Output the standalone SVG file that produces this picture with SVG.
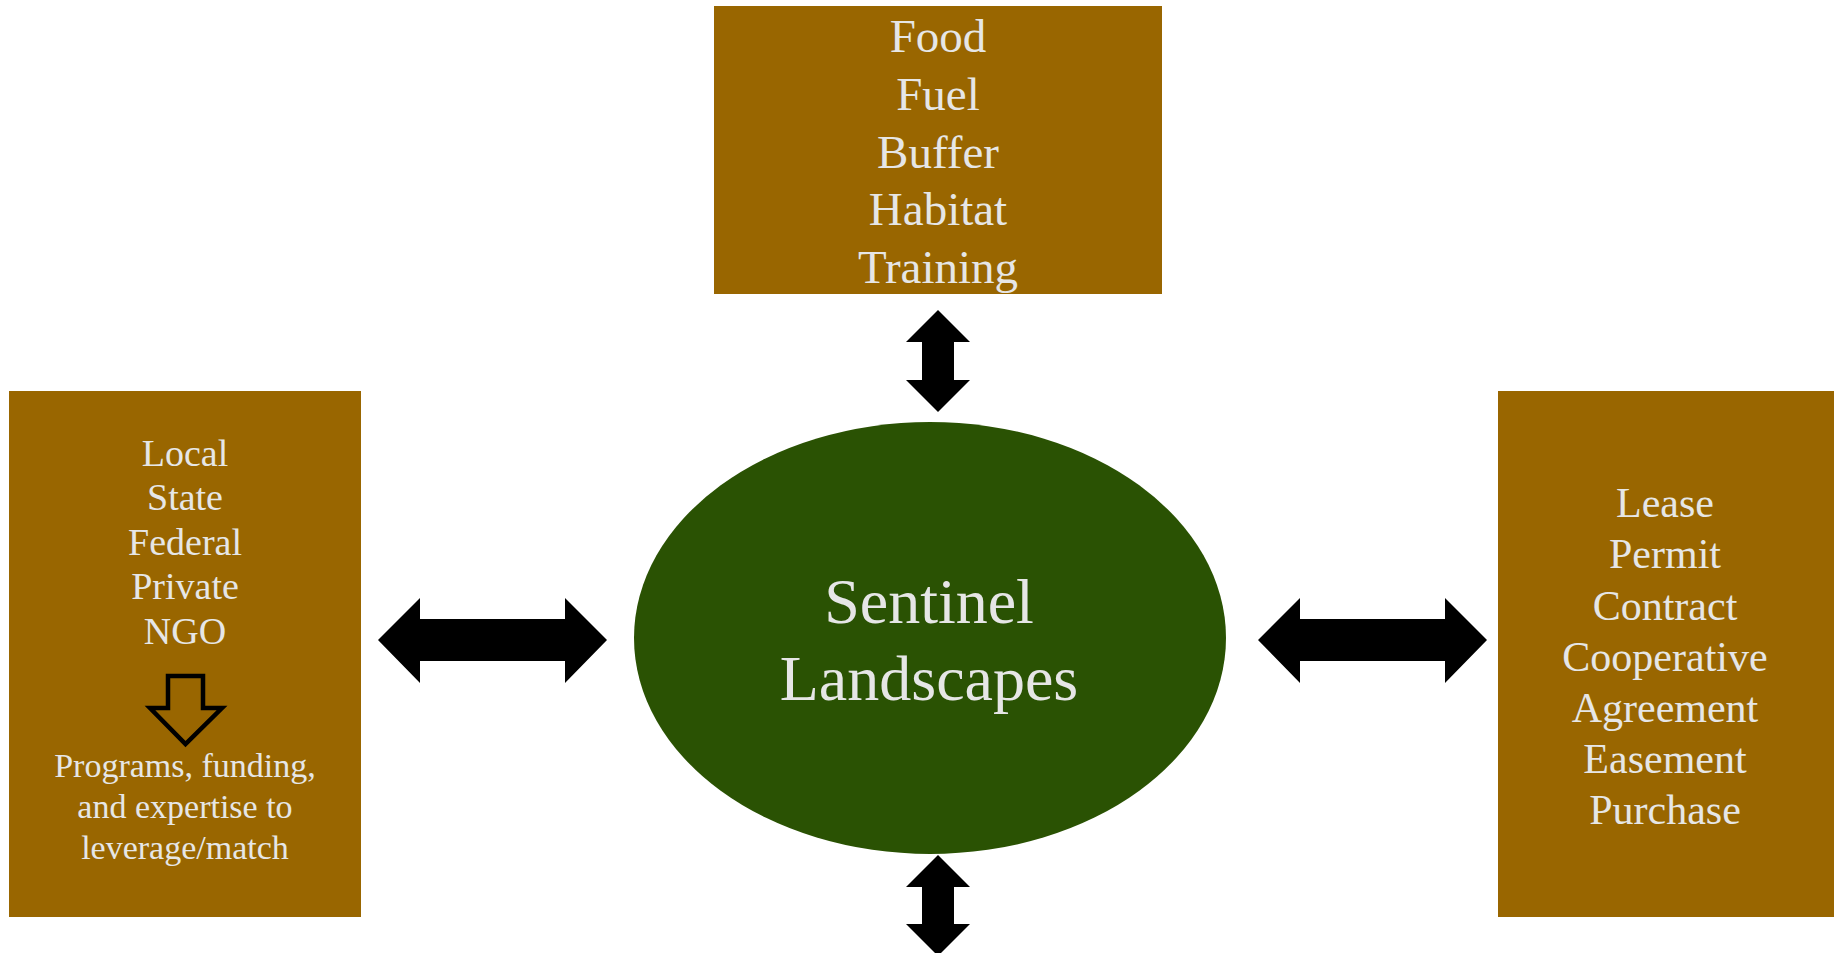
<svg xmlns="http://www.w3.org/2000/svg" width="1839" height="953" viewBox="0 0 1839 953">
<style>
.box{fill:#996600}
.t{font-family:"Liberation Serif","Times New Roman",serif;fill:#e6e6e6;text-anchor:middle}
.arr{fill:#000}
</style>
<rect width="1839" height="953" fill="#fff"/>
<g id="top-box">
<rect class="box" x="714" y="6" width="448" height="288"/>
<text class="t" font-size="47"><tspan x="938" y="52">Food</tspan><tspan x="938" y="110">Fuel</tspan><tspan x="938" y="168">Buffer</tspan><tspan x="938" y="225">Habitat</tspan><tspan x="938" y="283">Training</tspan></text>
</g>
<g id="left-box">
<rect class="box" x="9" y="391" width="352" height="526"/>
<text class="t" font-size="38"><tspan x="185" y="466">Local</tspan><tspan x="185" y="510">State</tspan><tspan x="185" y="555">Federal</tspan><tspan x="185" y="599">Private</tspan><tspan x="185" y="644">NGO</tspan></text>
<polygon points="168,676 203,676 203,708 222,708 185.5,744 150,708 168,708" fill="none" stroke="#000" stroke-width="4.5"/>
<text class="t" font-size="34"><tspan x="185" y="777">Programs, funding,</tspan><tspan x="185" y="818">and expertise to</tspan><tspan x="185" y="859">leverage/match</tspan></text>
</g>
<g id="right-box">
<rect class="box" x="1498" y="391" width="336" height="526"/>
<text class="t" font-size="42"><tspan x="1665" y="517">Lease</tspan><tspan x="1665" y="568">Permit</tspan><tspan x="1665" y="620">Contract</tspan><tspan x="1665" y="671">Cooperative</tspan><tspan x="1665" y="722">Agreement</tspan><tspan x="1665" y="773">Easement</tspan><tspan x="1665" y="824">Purchase</tspan></text>
</g>
<g id="center">
<ellipse cx="930" cy="638" rx="296" ry="216" fill="#2a5203"/>
<text class="t" font-size="64"><tspan x="929" y="623">Sentinel</tspan><tspan x="929" y="700">Landscapes</tspan></text>
</g>
<g id="connectors">
<polygon class="arr" points="938,310 970,342 954,342 954,380 970,380 938,412 906,380 922,380 922,342 906,342"/>
<polygon class="arr" points="938,855 970,887 954,887 954,924 970,924 938,956 906,924 922,924 922,887 906,887"/>
<polygon class="arr" points="378,640 420,598 420,619 565,619 565,598 607,640 565,683 565,661 420,661 420,683"/>
<polygon class="arr" points="1258,640 1300,598 1300,619 1445,619 1445,598 1487,640 1445,683 1445,661 1300,661 1300,683"/>
</g>
</svg>
